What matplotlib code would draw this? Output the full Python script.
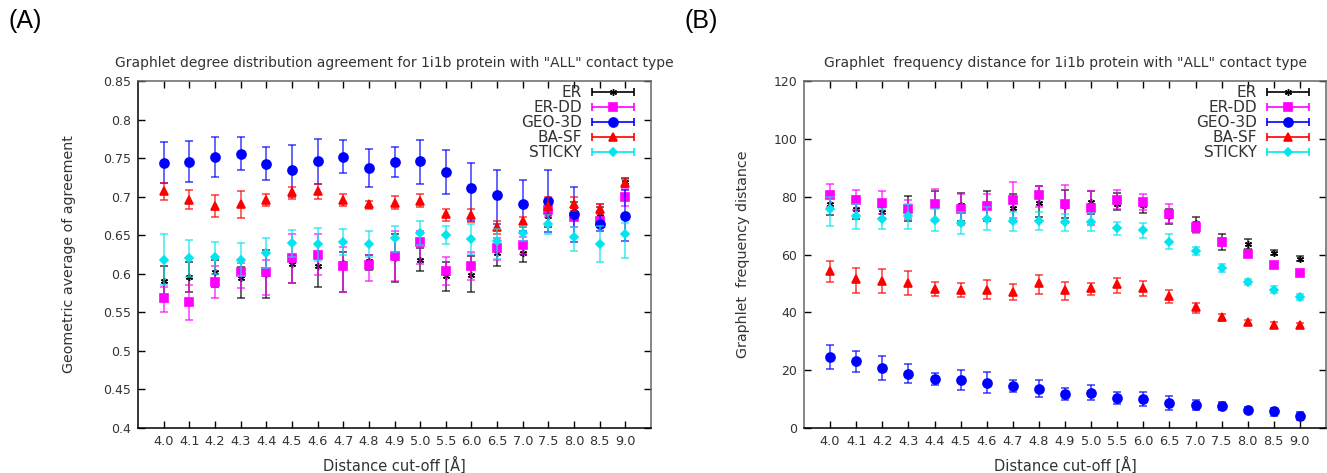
import numpy as np
import matplotlib
matplotlib.use("Agg")
import matplotlib.pyplot as plt
from matplotlib.container import ErrorbarContainer
from matplotlib.legend_handler import HandlerErrorbar

plt.rcParams['font.family'] = ['DejaVu Sans']

cutoffs = ["4.0", "4.1", "4.2", "4.3", "4.4", "4.5", "4.6", "4.7", "4.8", "4.9",
           "5.0", "5.5", "6.0", "6.5", "7.0", "7.5", "8.0", "8.5", "9.0"]
models = ["ER", "ER-DD", "GEO-3D", "BA-SF", "STICKY"]

# (A) graphlet degree distribution agreement: value, lower bar end, upper bar end
gdda_er = [0.590, 0.596, 0.602, 0.595, 0.600, 0.613, 0.610, 0.614, 0.617, 0.620,
           0.618, 0.597, 0.599, 0.627, 0.627, 0.675, 0.684, 0.677, 0.719]
gdda_er_lo = [0.570, 0.576, 0.583, 0.568, 0.569, 0.588, 0.583, 0.577, 0.605, 0.589,
              0.604, 0.578, 0.576, 0.610, 0.615, 0.661, 0.670, 0.669, 0.713]
gdda_er_hi = [0.610, 0.615, 0.618, 0.609, 0.631, 0.623, 0.627, 0.628, 0.624, 0.652,
              0.633, 0.615, 0.623, 0.643, 0.641, 0.687, 0.693, 0.686, 0.724]

gdda_erdd = [0.569, 0.564, 0.589, 0.602, 0.602, 0.620, 0.624, 0.610, 0.611, 0.623,
             0.641, 0.603, 0.610, 0.633, 0.637, 0.683, 0.674, 0.669, 0.700]
gdda_erdd_lo = [0.550, 0.540, 0.568, 0.581, 0.572, 0.588, 0.598, 0.577, 0.590, 0.591,
                0.613, 0.585, 0.592, 0.618, 0.625, 0.674, 0.661, 0.663, 0.688]
gdda_erdd_hi = [0.583, 0.586, 0.610, 0.614, 0.618, 0.651, 0.652, 0.635, 0.624, 0.656,
                0.655, 0.622, 0.628, 0.646, 0.648, 0.693, 0.685, 0.691, 0.710]

gdda_geo = [0.744, 0.745, 0.752, 0.755, 0.743, 0.735, 0.746, 0.752, 0.737, 0.745,
            0.746, 0.732, 0.711, 0.702, 0.691, 0.694, 0.677, 0.664, 0.675]
gdda_geo_lo = [0.718, 0.719, 0.726, 0.735, 0.722, 0.700, 0.717, 0.731, 0.712, 0.726,
               0.717, 0.704, 0.669, 0.664, 0.656, 0.654, 0.641, 0.656, 0.643]
gdda_geo_hi = [0.771, 0.772, 0.777, 0.778, 0.764, 0.767, 0.775, 0.774, 0.762, 0.764,
               0.774, 0.760, 0.744, 0.735, 0.722, 0.734, 0.712, 0.680, 0.708]

gdda_basf = [0.707, 0.696, 0.688, 0.690, 0.696, 0.706, 0.707, 0.696, 0.690, 0.692,
             0.695, 0.677, 0.676, 0.661, 0.668, 0.688, 0.691, 0.684, 0.718]
gdda_basf_lo = [0.696, 0.684, 0.674, 0.672, 0.688, 0.697, 0.697, 0.688, 0.684, 0.684,
                0.687, 0.668, 0.667, 0.652, 0.661, 0.677, 0.682, 0.677, 0.713]
gdda_basf_hi = [0.718, 0.708, 0.702, 0.707, 0.704, 0.713, 0.716, 0.703, 0.695, 0.701,
                0.703, 0.684, 0.684, 0.668, 0.674, 0.700, 0.699, 0.691, 0.723]

gdda_sticky = [0.618, 0.620, 0.622, 0.618, 0.627, 0.640, 0.639, 0.641, 0.639, 0.646,
               0.653, 0.650, 0.645, 0.643, 0.653, 0.665, 0.648, 0.638, 0.651]
gdda_sticky_lo = [0.585, 0.596, 0.600, 0.597, 0.608, 0.622, 0.617, 0.624, 0.622, 0.628,
                  0.637, 0.638, 0.626, 0.619, 0.643, 0.651, 0.630, 0.615, 0.620]
gdda_sticky_hi = [0.652, 0.644, 0.641, 0.640, 0.647, 0.657, 0.659, 0.658, 0.656, 0.662,
                  0.669, 0.662, 0.664, 0.658, 0.662, 0.676, 0.661, 0.662, 0.666]

# (B) graphlet frequency distance
gfd_er = [77.6, 75.9, 74.7, 75.9, 77.4, 77.2, 77.4, 76.2, 77.8, 76.7,
          78.2, 77.6, 77.0, 73.2, 71.0, 64.7, 63.7, 60.5, 58.4]
gfd_er_lo = [73.8, 72.3, 72.7, 71.6, 71.6, 71.6, 71.6, 71.2, 73.0, 72.7,
             73.9, 75.3, 74.4, 70.4, 67.8, 61.7, 62.0, 59.7, 57.6]
gfd_er_hi = [81.3, 78.2, 76.4, 80.1, 81.8, 81.3, 81.8, 81.0, 83.6, 82.4,
             81.8, 81.3, 79.3, 75.9, 73.0, 67.2, 65.2, 61.4, 59.4]

gfd_erdd = [80.7, 79.0, 77.9, 75.9, 77.4, 75.9, 76.8, 79.0, 80.5, 77.6,
            76.1, 79.0, 78.2, 74.1, 69.5, 64.3, 60.1, 56.3, 53.7]
gfd_erdd_lo = [76.4, 75.5, 74.1, 72.2, 72.0, 70.3, 71.8, 72.6, 76.4, 70.9,
               70.1, 75.9, 75.5, 70.9, 67.6, 62.8, 59.1, 55.4, 52.8]
gfd_erdd_hi = [84.5, 82.2, 81.8, 79.0, 82.8, 81.0, 81.0, 85.1, 83.6, 83.9,
               81.8, 82.2, 81.0, 77.4, 71.2, 65.8, 60.9, 57.1, 54.5]

gfd_geo = [24.6, 23.1, 20.9, 18.8, 17.1, 16.5, 15.7, 14.5, 13.6, 11.9,
           12.2, 10.4, 9.9, 8.6, 7.8, 7.6, 6.3, 5.8, 4.2]
gfd_geo_lo = [20.3, 19.4, 16.7, 15.6, 15.0, 13.0, 12.1, 12.5, 10.7, 9.6,
              9.8, 8.2, 7.5, 6.3, 6.3, 6.1, 5.2, 4.1, 2.9]
gfd_geo_hi = [28.6, 26.6, 24.9, 22.2, 19.0, 19.9, 19.4, 16.7, 16.5, 13.9,
              14.8, 12.5, 12.5, 10.9, 9.6, 9.0, 7.3, 7.0, 5.5]

gfd_basf = [54.2, 51.4, 51.0, 50.3, 48.2, 47.8, 47.8, 47.1, 50.1, 47.8,
            48.4, 49.7, 48.4, 45.5, 41.8, 38.4, 36.7, 35.7, 35.5]
gfd_basf_lo = [50.5, 46.7, 46.7, 45.9, 45.7, 45.3, 44.7, 44.4, 46.2, 44.4,
               45.9, 46.8, 45.7, 43.3, 39.9, 37.0, 35.9, 34.7, 34.7]
gfd_basf_hi = [57.8, 55.4, 55.0, 54.3, 50.5, 50.3, 51.1, 49.9, 53.0, 50.5,
               50.1, 52.0, 50.8, 47.6, 43.3, 39.5, 37.5, 36.7, 36.3]

gfd_sticky = [75.6, 73.4, 72.2, 73.4, 72.0, 70.9, 72.4, 71.5, 71.6, 71.2,
              71.2, 69.2, 68.4, 64.3, 61.2, 55.4, 50.5, 47.8, 45.3]
gfd_sticky_lo = [69.9, 68.7, 68.7, 68.7, 68.1, 67.0, 68.6, 68.1, 68.4, 68.0,
                 68.0, 66.6, 65.8, 61.8, 59.7, 53.9, 49.3, 46.7, 44.2]
gfd_sticky_hi = [79.9, 77.4, 75.9, 77.6, 75.6, 74.7, 76.4, 74.7, 74.7, 74.1,
                 74.4, 71.2, 71.0, 67.0, 62.6, 56.8, 51.6, 49.0, 46.5]

# gnuplot-like point styles per model
colors = ["#000000", "#ff00ff", "#0000ff", "#ff0000", "#00e5ee"]
markers = [(6, 2, 0), "s", "o", "^", "D"]
msizes = [5, 5.5, 6.5, 5.5, 4]
mews = [1.0, 1.2, 1.2, 1.2, 1.2]

TXT = "#333333"


def draw_panel(ax, series, title, ylabel, ylim, yticks, ylabel_x):
    x = np.arange(len(cutoffs))
    handles = []
    for (vals, lo, hi), name, c, m, ms, mw in zip(series, models, colors, markers, msizes, mews):
        vals = np.array(vals)
        yerr = [vals - np.array(lo), np.array(hi) - vals]
        ax.errorbar(x, vals, yerr=yerr, fmt="none", ecolor=c, elinewidth=1.2,
                    capsize=3, capthick=1.2, alpha=0.7)
        ax.plot(x, vals, linestyle="none", marker=m, color=c, ms=ms, mew=mw)
        # proxy with horizontal bar for the gnuplot style key
        h = ax.errorbar([np.nan], [np.nan], xerr=[1], fmt="none", ecolor=c,
                        elinewidth=1.2, capsize=3, capthick=1.2)
        hp = ax.plot([np.nan], [np.nan], linestyle="none", marker=m, color=c, ms=ms, mew=mw)[0]
        handles.append(ErrorbarContainer((hp, h.lines[1], h.lines[2]),
                                         has_xerr=True, has_yerr=False, label=name))

    ax.set_xlim(-1, len(cutoffs))
    ax.set_ylim(*ylim)
    ax.set_xticks(x)
    ax.set_xticklabels(cutoffs)
    ax.set_yticks(yticks)
    ax.set_yticklabels(["%g" % t for t in yticks])
    ax.tick_params(direction="in", top=True, right=True, length=5, width=1,
                   labelsize=9, labelcolor=TXT, pad=5)
    ax.tick_params(axis="x", labelsize=9.3)
    for side in ["top", "right", "left"]:
        ax.spines[side].set_color("#666666")
    ax.spines["bottom"].set_color("black")
    for s in ax.spines.values():
        s.set_linewidth(1.1)

    ax.set_title(title, fontsize=10, color=TXT, pad=10)
    ax.set_xlabel("Distance cut-off [Å]", fontsize=10.5, color=TXT)
    ax.xaxis.set_label_coords(0.5, -0.083)
    ax.set_ylabel(ylabel, fontsize=10.3, color=TXT)
    ax.yaxis.set_label_coords(ylabel_x, 0.5)

    w = ax.get_position().width * 1327
    leg = ax.legend(handles=handles, loc="upper right",
                    bbox_to_anchor=(1 - 17 / w, 1 - 4 / 347), frameon=False,
                    markerfirst=False, alignment="right", fontsize=11,
                    handlelength=2.75, handletextpad=0.65, labelspacing=0.0,
                    borderpad=0, borderaxespad=0,
                    handler_map={ErrorbarContainer: HandlerErrorbar(xerr_size=1.37)})
    for t in leg.get_texts():
        t.set_color(TXT)


fig = plt.figure(figsize=(13.27, 4.73), dpi=100)
ax1 = fig.add_axes([138 / 1327, 1 - 428 / 473, 513 / 1327, 347 / 473])
ax2 = fig.add_axes([804 / 1327, 1 - 428 / 473, 522 / 1327, 347 / 473])

draw_panel(ax1,
           [(gdda_er, gdda_er_lo, gdda_er_hi),
            (gdda_erdd, gdda_erdd_lo, gdda_erdd_hi),
            (gdda_geo, gdda_geo_lo, gdda_geo_hi),
            (gdda_basf, gdda_basf_lo, gdda_basf_hi),
            (gdda_sticky, gdda_sticky_lo, gdda_sticky_hi)],
           'Graphlet degree distribution agreement for 1i1b protein with "ALL" contact type',
           "Geometric average of agreement", (0.4, 0.85),
           np.arange(0.4, 0.851, 0.05).round(2), (76 - 138) / 513)
ax1.spines["left"].set_color("black")

draw_panel(ax2,
           [(gfd_er, gfd_er_lo, gfd_er_hi),
            (gfd_erdd, gfd_erdd_lo, gfd_erdd_hi),
            (gfd_geo, gfd_geo_lo, gfd_geo_hi),
            (gfd_basf, gfd_basf_lo, gfd_basf_hi),
            (gfd_sticky, gfd_sticky_lo, gfd_sticky_hi)],
           'Graphlet  frequency distance for 1i1b protein with "ALL" contact type',
           "Graphlet  frequency distance", (0, 120),
           np.arange(0, 121, 20), (750 - 804) / 522)

fig.text(8 / 1327, 1 - 9 / 473, "(A)", fontsize=18, va="top", ha="left", color="black",
         family="Liberation Sans")
fig.text(685 / 1327, 1 - 9 / 473, "(B)", fontsize=18, va="top", ha="left", color="black",
         family="Liberation Sans")

fig.savefig("out.png", dpi=100)
